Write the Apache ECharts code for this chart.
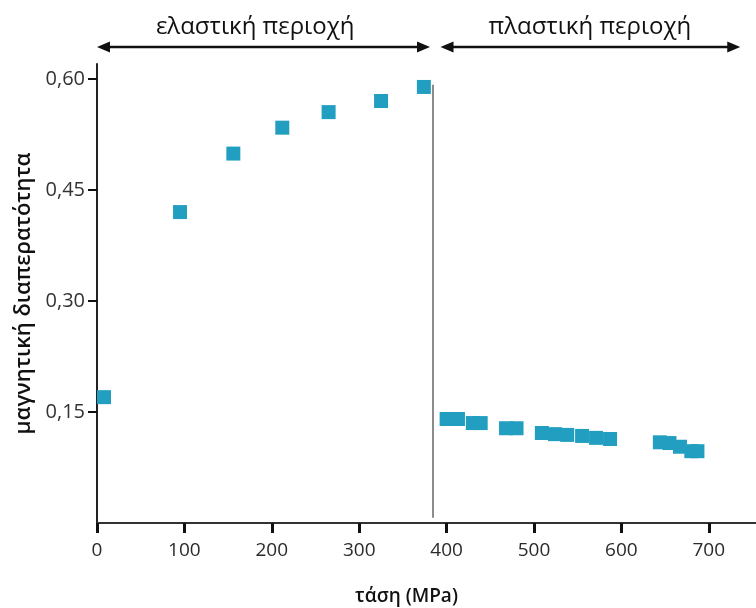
<!DOCTYPE html>
<html>
<head>
<meta charset="utf-8">
<script src="https://cdn.jsdelivr.net/npm/echarts@6/dist/echarts.min.js"></script>
<style>
  html, body { margin: 0; padding: 0; background: #ffffff; }
  #chart { width: 756px; height: 608px; }
</style>
</head>
<body>
<div id="chart"></div>
<script>
// Stress (MPa) vs. magnetic permeability measurements
const stress = [8, 95, 156, 212, 265, 325, 374,
  400, 413, 430, 439, 468, 480,
  509, 524, 538, 555, 571, 587,
  644, 655, 667, 680, 687];
const permeability = [0.170, 0.420, 0.499, 0.534, 0.555, 0.570, 0.589,
  0.1405, 0.1405, 0.135, 0.135, 0.128, 0.128,
  0.1216, 0.120, 0.119, 0.1176, 0.115, 0.1135,
  0.109, 0.108, 0.103, 0.097, 0.097];

const xTicks = [0, 100, 200, 300, 400, 500, 600, 700];
const yTicks = [0.15, 0.30, 0.45, 0.60];

// Boundary between the elastic and plastic regions (MPa)
const yieldStress = 384;
const regionLabels = ['ελαστική περιοχή', 'πλαστική περιοχή'];
const regionSpans = [[0, 381], [393, 736]];
const regionLabelCenters = [181, 564];

const xMax = 754, yMax = 0.62;
const font = '"Open Sans", "DejaVu Sans", sans-serif';

const points = stress.map((s, i) => [s, permeability[i]]);

const chart = echarts.init(document.getElementById('chart'), null, { renderer: 'canvas' });

const baseX = {
  type: 'value', min: 0, max: xMax, splitLine: { show: false }
};
const baseY = {
  type: 'value', min: 0, max: yMax, splitLine: { show: false }
};

chart.setOption({
  animation: false,
  backgroundColor: '#ffffff',
  grid: { left: 97, right: 0, top: 64, bottom: 85, containLabel: false, outerBoundsMode: 'none' },
  xAxis: [
    Object.assign({}, baseX, {
      name: 'τάση (MPa)',
      nameLocation: 'middle',
      nameGap: 64,
      nameTextStyle: { fontFamily: font, fontSize: 19, fontWeight: 600, color: '#111',
        padding: [0, 40, 0, 0] },
      axisLine: { show: true, lineStyle: { color: '#333', width: 2 } },
      axisTick: { show: true, inside: false, length: 10, customValues: xTicks,
        lineStyle: { color: '#111', width: 3 } },
      axisLabel: { show: true, customValues: xTicks, margin: 18,
        fontFamily: font, fontSize: 19, color: '#2a2a2a' }
    }),
    Object.assign({}, baseX, {
      axisLine: { show: false },
      axisTick: { show: true, inside: true, length: 9, customValues: xTicks,
        lineStyle: { color: '#111', width: 3 } },
      axisLabel: { show: false }
    })
  ],
  yAxis: [
    Object.assign({}, baseY, {
      name: 'μαγνητική διαπερατότητα',
      nameLocation: 'middle',
      nameGap: 52,
      nameRotate: 90,
      nameTextStyle: { fontFamily: font, fontSize: 22, fontWeight: 600, color: '#111' },
      axisLine: { show: true, lineStyle: { color: '#222', width: 2 } },
      axisTick: { show: true, inside: false, length: 9, customValues: yTicks,
        lineStyle: { color: '#111', width: 2 } },
      axisLabel: { show: true, customValues: yTicks, margin: 12,
        fontFamily: font, fontSize: 20, color: '#333',
        formatter: v => v.toFixed(2).replace('.', ',') }
    }),
    Object.assign({}, baseY, {
      axisLine: { show: false },
      axisTick: { show: true, inside: true, length: 5, customValues: yTicks,
        lineStyle: { color: '#111', width: 2 } },
      axisLabel: { show: false }
    })
  ],
  series: [{
    type: 'scatter',
    xAxisIndex: 0,
    yAxisIndex: 0,
    data: points,
    symbol: 'rect',
    symbolSize: 14,
    itemStyle: { color: '#229fc0', opacity: 1 },
    markLine: {
      silent: true,
      symbol: ['none', 'none'],
      label: { show: false },
      lineStyle: { color: '#666', width: 1.5, type: 'solid' },
      data: [[{ coord: [yieldStress, 0.007] }, { coord: [yieldStress, 0.592] }]]
    },
    z: 3
  }]
});

// Region arrows and labels above the plot
function drawRegions() {
  const arrowY = 47, labelY = 27, head = 13, half = 5.5;
  const els = [];
  regionSpans.forEach((span, i) => {
    const x1 = chart.convertToPixel({ xAxisIndex: 0 }, span[0]);
    const x2 = chart.convertToPixel({ xAxisIndex: 0 }, span[1]);
    els.push({
      type: 'line',
      shape: { x1: x1 + head - 2, y1: arrowY, x2: x2 - head + 2, y2: arrowY },
      style: { stroke: '#111', lineWidth: 2.5 }
    });
    els.push({
      type: 'polygon',
      shape: { points: [[x1, arrowY], [x1 + head, arrowY - half], [x1 + head, arrowY + half]] },
      style: { fill: '#111' }
    });
    els.push({
      type: 'polygon',
      shape: { points: [[x2, arrowY], [x2 - head, arrowY - half], [x2 - head, arrowY + half]] },
      style: { fill: '#111' }
    });
    els.push({
      type: 'text',
      x: chart.convertToPixel({ xAxisIndex: 0 }, regionLabelCenters[i]),
      y: labelY,
      style: {
        text: regionLabels[i],
        fontFamily: font, fontSize: 24, fill: '#111',
        align: 'center', verticalAlign: 'middle'
      }
    });
  });
  chart.setOption({ graphic: { elements: els } });
}
drawRegions();
</script>
</body>
</html>
